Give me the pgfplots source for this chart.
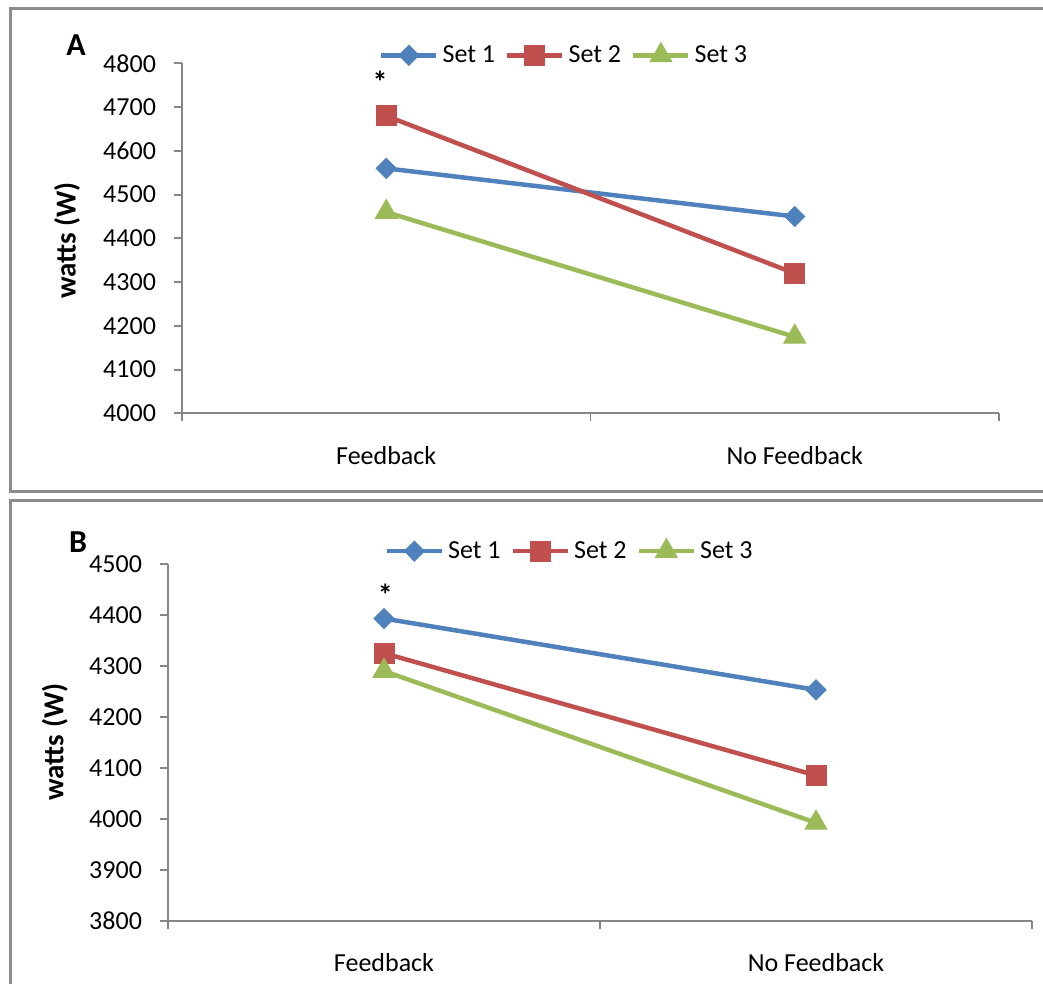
\documentclass[border=0pt]{standalone}
\usepackage{pgfplots}
\pgfplotsset{compat=1.18}
\usepackage{fontspec}
\setmainfont{Carlito}

\definecolor{sone}{RGB}{79,129,189}
\definecolor{stwo}{RGB}{192,80,77}
\definecolor{sthree}{RGB}{155,187,89}
\definecolor{axgray}{RGB}{134,134,134}
\definecolor{framegray}{RGB}{140,140,140}

\newcommand{\lbl}{\fontsize{13}{15}\selectfont}

\pgfplotsset{
  excel/.style={
    scale only axis, clip=false,
    axis x line*=bottom, axis y line*=left,
    axis line style={axgray, line width=1pt},
    tick align=outside, major tick length=4pt,
    tick style={axgray, line width=0.9pt},
    xmin=-0.5, xmax=1.5,
    xtick={-0.5,0.5,1.5},
    xticklabels={Feedback,No Feedback,{}},
    ticklabel style={font=\lbl, black},
    yticklabel style={xshift=-5.5pt},
    /pgf/number format/assume math mode=true,
    /pgf/number format/1000 sep={},
    ylabel={watts (W)},
    ylabel style={font=\fontsize{14.5}{16}\selectfont\bfseries, anchor=center},
    legend columns=3,
    legend style={draw=none, fill=none, font=\lbl, anchor=center,
      /tikz/every even column/.append style={column sep=3pt}},
    legend image code/.code={\draw[mark repeat=2,mark phase=2]
      plot coordinates {(0pt,0pt) (13.75pt,0pt) (27.5pt,0pt)};},
    every axis plot/.append style={line width=2.25pt},
  },
  setone/.style={color=sone, mark=diamond*, mark size=5pt, mark options={solid, xscale=1.33, line width=0.5pt}},
  settwo/.style={color=stwo, mark=square*, mark size=5pt, mark options={solid, line width=0.5pt}},
  setthree/.style={color=sthree, mark=triangle*, mark size=6.3pt, mark options={solid, line width=0.5pt}},
}

\begin{document}
\begin{tikzpicture}
  \useasboundingbox (0,0) rectangle (521.5pt,492pt);
  % frames round the two panels
  \draw[framegray, line width=1.5pt] (5pt,246.2pt) rectangle (530pt,487.5pt);
  \draw[framegray, line width=1.5pt] (5pt,-10pt) rectangle (530pt,241.7pt);

  %% panel A
  \begin{axis}[excel,
      at={(91pt,285.3pt)}, anchor=south west,
      width=408.5pt, height=175pt,
      ymin=4000, ymax=4800, ytick={4000,4100,...,4800},
      xticklabel style={xshift=102.1pt, yshift=-9pt},
      ylabel style={at={(axis description cs:-0.1406,0.494)}},
      legend style={at={(0.469,1.023)}}]
    \addplot[setone] coordinates {(0,4560) (1,4450)};
    \addplot[settwo] coordinates {(0,4680) (1,4320)};
    \addplot[setthree] coordinates {(0,4460) (1,4175)};
    \legend{Set 1,Set 2,Set 3}
    \node[font=\fontsize{15}{16}\selectfont\bfseries] at (axis cs:-0.015,4758) {*};
    \node[font=\fontsize{16}{18}\selectfont\bfseries] at (axis description cs:-0.1296,1.051) {A};
  \end{axis}

  %% panel B
  \begin{axis}[excel,
      at={(84pt,31.65pt)}, anchor=south west,
      width=432pt, height=178.35pt,
      ymin=3800, ymax=4500, ytick={3800,3900,...,4500},
      xticklabel style={xshift=108pt, yshift=-9pt},
      ylabel style={at={(axis description cs:-0.131,0.501)}},
      legend style={at={(0.466,1.036)}}]
    \addplot[setone] coordinates {(0,4393) (1,4253)};
    \addplot[settwo] coordinates {(0,4325) (1,4085)};
    \addplot[setthree] coordinates {(0,4290) (1,3992)};
    \legend{Set 1,Set 2,Set 3}
    \node[font=\fontsize{15}{16}\selectfont\bfseries] at (axis cs:0.003,4440) {*};
    \node[font=\fontsize{16}{18}\selectfont\bfseries] at (axis description cs:-0.104,1.0616) {B};
  \end{axis}
\end{tikzpicture}
\end{document}
